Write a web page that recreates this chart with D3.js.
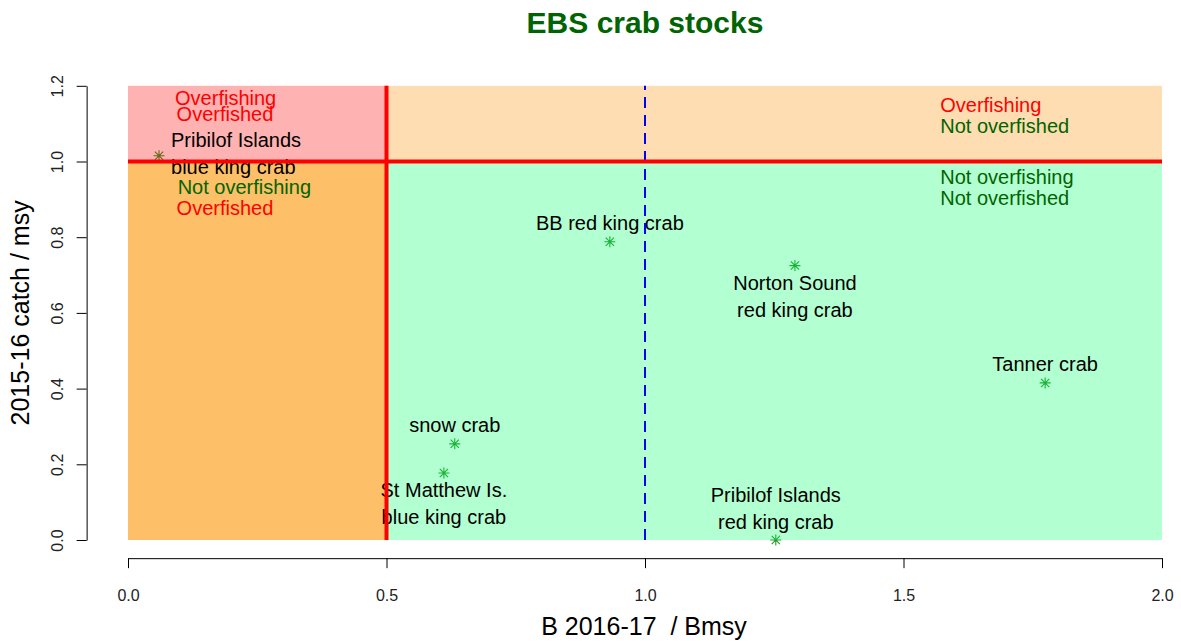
<!DOCTYPE html>
<html>
<head>
<meta charset="utf-8">
<script src="https://cdn.jsdelivr.net/npm/d3@7"></script>
<style>
  body { margin: 0; background: #fff; }
  text { font-family: "Liberation Sans", Arial, sans-serif; }
</style>
</head>
<body>
<div id="chart"></div>
<script>
// Stock values
const stocks = [
  "Pribilof Islands\nblue king crab",
  "BB red king crab",
  "Norton Sound\nred king crab",
  "Tanner crab",
  "snow crab",
  "St Matthew Is.\nblue king crab",
  "Pribilof Islands\nred king crab"
];
const bRatio = [0.060, 0.932, 1.290, 1.774, 0.632, 0.611, 1.253];
const catchRatio = [1.015, 0.788, 0.725, 0.415, 0.254, 0.177, 0.0];
// R style label position: 1 below, 3 above, 4 right
const labelPos = [4, 3, 1, 3, 3, 1, 3];

const xTicks = [0, 0.5, 1, 1.5, 2];
const yTicks = [0, 0.2, 0.4, 0.6, 0.8, 1.0, 1.2];

// status zones: [x0, x1, y0, y1, colour, opacity]
const zones = [
  [0, 0.5, 1, 1.2, "#ff0000", 0.3],
  [0.5, 2, 1, 1.2, "#ff9000", 0.3],
  [0, 0.5, 0, 1, "#fc9603", 0.6],
  [0.5, 2, 0, 1, "#00ff66", 0.3]
];

// zone notes: [text, colour, x, y]
const zoneNotes = [
  ["Overfishing", "#ff0000", 0.091, 1.169],
  ["Overfished", "#ff0000", 0.094, 1.125],
  ["Not overfishing", "#006400", 0.096, 0.933],
  ["Overfished", "#ff0000", 0.094, 0.876],
  ["Overfishing", "#ff0000", 1.571, 1.149],
  ["Not overfished", "#006400", 1.571, 1.094],
  ["Not overfishing", "#006400", 1.571, 0.958],
  ["Not overfished", "#006400", 1.571, 0.904]
];

const W = 1181, H = 643;

const svg = d3.select("#chart")
  .append("svg")
  .attr("width", W)
  .attr("height", H);

const x = d3.scaleLinear().domain([0, 2]).range([128, 1162]);
const y = d3.scaleLinear().domain([0, 1.2]).range([540, 85.8]);

// points first, the zone colours lie over them
const pts = stocks.map((s, i) => ({ name: s, b: bRatio[i], c: catchRatio[i], pos: labelPos[i] }));
const r = 5.5;
svg.append("g")
  .selectAll("path")
  .data(pts)
  .enter()
  .append("path")
  .attr("d", d => {
    const cx = x(d.b), cy = y(d.c), k = r * 0.75;
    return `M${cx - r},${cy}H${cx + r}M${cx},${cy - r}V${cy + r}` +
      `M${cx - k},${cy - k}L${cx + k},${cy + k}M${cx - k},${cy + k}L${cx + k},${cy - k}`;
  })
  .attr("stroke", "#249424")
  .attr("stroke-width", 1.1)
  .attr("fill", "none");

svg.append("g")
  .selectAll("rect")
  .data(zones)
  .enter()
  .append("rect")
  .attr("x", d => x(d[0]))
  .attr("y", d => y(d[3]))
  .attr("width", d => x(d[1]) - x(d[0]))
  .attr("height", d => y(d[2]) - y(d[3]))
  .attr("fill", d => d[4])
  .attr("fill-opacity", d => d[5]);

// axes
const xAxis = d3.axisBottom(x).tickValues(xTicks).tickSize(10).tickSizeOuter(0)
  .tickFormat(d3.format(".1f"));
const gx = svg.append("g")
  .attr("transform", `translate(0,${y(-0.048)})`)
  .call(xAxis);
gx.attr("font-size", null).attr("font-family", null);
gx.selectAll("text").attr("y", 31).attr("font-size", "16px").attr("fill", "#222");

const yAxis = d3.axisLeft(y).tickValues(yTicks).tickSize(10).tickSizeOuter(0)
  .tickFormat(d3.format(".1f"));
const gy = svg.append("g")
  .attr("transform", `translate(${x(-0.08)},0)`)
  .call(yAxis);
gy.attr("font-size", null).attr("font-family", null);
gy.selectAll("text")
  .attr("transform", "rotate(-90)")
  .attr("x", 0)
  .attr("y", -24)
  .attr("dy", 0)
  .attr("text-anchor", "middle")
  .attr("font-size", "16px")
  .attr("fill", "#222");

// point labels
const lineGap = 27;
const lab = svg.append("g").attr("font-size", "20px").attr("fill", "#000");
pts.forEach(d => {
  const lines = d.name.split("\n");
  const cx = x(d.b), cy = y(d.c);
  lines.forEach((t, j) => {
    let ty, tx = cx, anchor = "middle";
    if (d.pos === 3) ty = cy - 18.5 - (lines.length - 1 - j) * lineGap;
    else if (d.pos === 1) ty = cy + 17 + j * lineGap;
    else {
      tx = cx + 12; anchor = "start";
      ty = cy - 2.7 + (j - (lines.length - 1) / 2) * lineGap;
    }
    lab.append("text")
      .attr("x", tx)
      .attr("y", ty)
      .attr("dy", "0.35em")
      .attr("text-anchor", anchor)
      .text(t);
  });
});

// zone notes
svg.append("g")
  .attr("font-size", "20px")
  .selectAll("text")
  .data(zoneNotes)
  .enter()
  .append("text")
  .attr("x", d => x(d[2]))
  .attr("y", d => y(d[3]))
  .attr("dy", "0.35em")
  .attr("fill", d => d[1])
  .text(d => d[0]);

// reference lines
svg.append("line")
  .attr("x1", x(1)).attr("x2", x(1))
  .attr("y1", y(0)).attr("y2", y(1.2))
  .attr("stroke", "#0000ff")
  .attr("stroke-width", 2)
  .attr("stroke-dasharray", "11,7");

svg.append("line")
  .attr("x1", x(0.5)).attr("x2", x(0.5))
  .attr("y1", y(0)).attr("y2", y(1.2))
  .attr("stroke", "#ff0000")
  .attr("stroke-width", 4);

svg.append("line")
  .attr("x1", x(0)).attr("x2", x(2))
  .attr("y1", y(1)).attr("y2", y(1))
  .attr("stroke", "#ff0000")
  .attr("stroke-width", 4);

// titles
svg.append("text")
  .attr("x", 645)
  .attr("y", 33)
  .attr("text-anchor", "middle")
  .attr("font-size", "30px")
  .attr("font-weight", "bold")
  .attr("fill", "#006400")
  .text("EBS crab stocks");

svg.append("text")
  .attr("x", 644)
  .attr("y", 635)
  .attr("text-anchor", "middle")
  .attr("font-size", "25px")
  .attr("xml:space", "preserve")
  .style("white-space", "pre")
  .text("B 2016-17  / Bmsy");

svg.append("text")
  .attr("transform", `translate(29,${(y(0) + y(1.2)) / 2}) rotate(-90)`)
  .attr("text-anchor", "middle")
  .attr("font-size", "25px")
  .text("2015-16 catch / msy");
</script>
</body>
</html>
